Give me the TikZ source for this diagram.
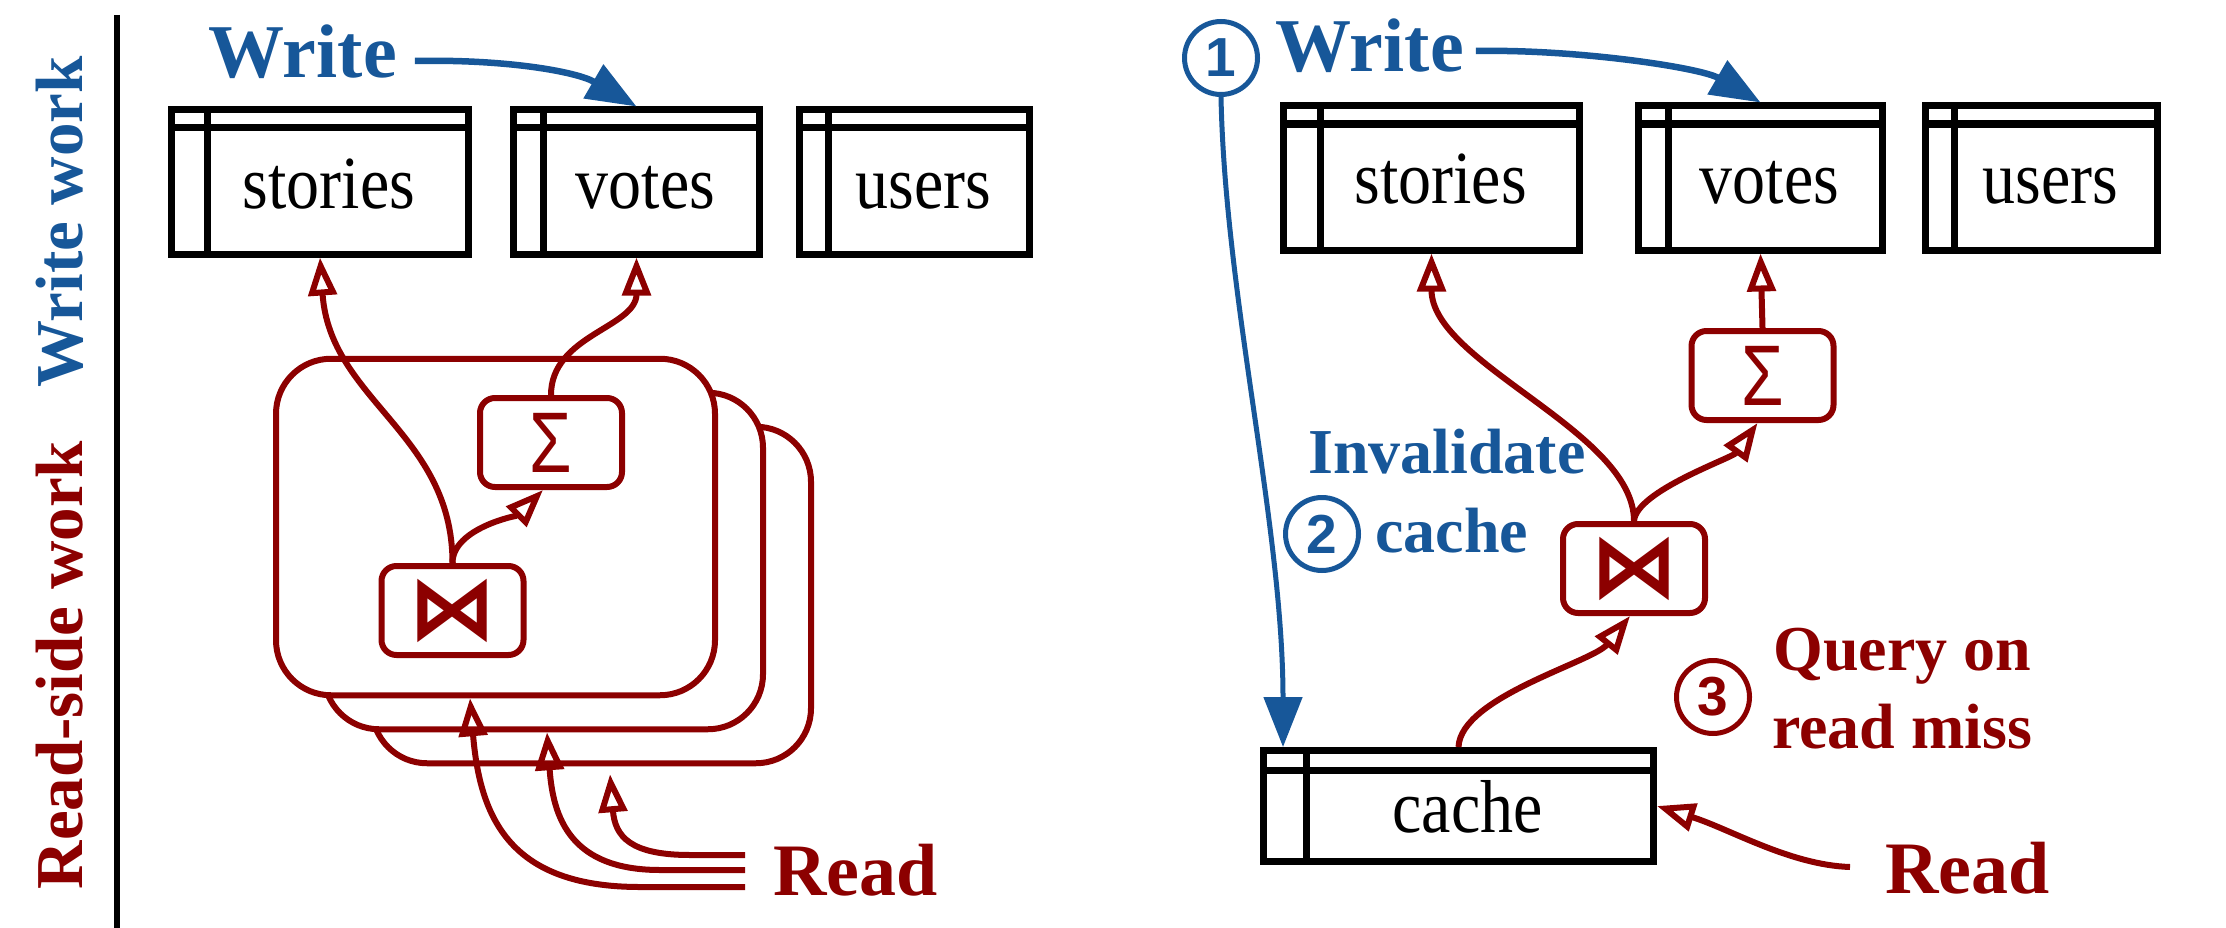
\documentclass[tikz,border=0pt]{standalone}
\usepackage{fontspec}
\setmainfont{Liberation Serif}
\newfontfamily\tblfont[FakeStretch=0.88]{Liberation Serif}
\newfontfamily\numfont{Liberation Sans}
\newfontfamily\sigfont[FakeStretch=0.8]{Liberation Sans}
\newfontfamily\opfont{DejaVu Sans}
\usetikzlibrary{arrows.meta,calc}
\definecolor{wblue}{RGB}{23,87,153}
\definecolor{rred}{RGB}{140,0,0}

\begin{document}
\begin{tikzpicture}[x=1pt,y=-1pt,
  % table: frame, header rule and key column
  tbl/.style 2 args={draw=black, line width=7pt, rectangle, inner sep=0pt,
    minimum height=144pt, text height=52pt, text depth=0pt,
    font=\tblfont\fontsize{75}{80}\selectfont,
    execute at begin node={\hspace*{18pt}},
    path picture={
      \draw[line width=7.5pt] ([yshift=-#2]path picture bounding box.north west) -- ([yshift=-#2]path picture bounding box.north east);
      \draw[line width=7pt] ([xshift=#1]path picture bounding box.north west) -- ([xshift=#1]path picture bounding box.south west);}},
  stk/.style={draw=rred, fill=white, line width=6pt, rounded corners=55pt,
    minimum width=439pt, minimum height=336.5pt, inner sep=0pt},
  opbox/.style={draw=rred, fill=white, line width=6pt, rounded corners=15pt,
    minimum width=142pt, minimum height=89pt, inner sep=0pt, text=rred},
  sigop/.style={opbox, font=\sigfont\fontsize{86}{90}\selectfont},
  joinop/.style={opbox, font=\opfont\bfseries\fontsize{88}{90}\selectfont},
  numcirc/.style={circle, draw, line width=5pt, minimum size=73pt, inner sep=0pt,
    font=\numfont\bfseries\fontsize{55}{60}\selectfont},
  lbl/.style={inner sep=0pt, anchor=base west, font=\bfseries\fontsize{64}{70}\selectfont},
  side/.style={inner sep=0pt, rotate=90, anchor=base, font=\bfseries\fontsize{67}{70}\selectfont},
  warr/.style={draw=wblue, line width=6.5pt, -{Triangle[length=50pt,width=38pt]}},
  rarr/.style={draw=rred, line width=6pt, -{Triangle[open,length=38pt,width=28pt]}}
]
\useasboundingbox (0,0) rectangle (2226,928);

% separator and side captions
\coordinate (sepTop) at (117,15);
\coordinate (sepBot) at (117,928);
\draw[line width=6pt] (sepTop) -- (sepBot);
\node[side, text=wblue] (wwork) at (82,222) {Write work};
\node[side, text=rred] (rwork) at (82,665) {Read-side work};

% ---------- left: dataflow ----------
\node[tbl={36pt}{17.5pt}, minimum width=297pt] (storiesL) at (320,182) {stories};
\node[tbl={30pt}{17.5pt}, minimum width=246pt] (votesL) at (636.5,182) {votes};
\node[tbl={29pt}{17.5pt}, minimum width=230pt] (usersL) at (914.5,182) {users};

\node[lbl, text=wblue, font=\bfseries\fontsize{76}{80}\selectfont] (writeL) at (208,78) {Write};

\node[stk] (box3) at (591.5,595) {};
\node[stk] (box2) at (543.5,561) {};
\node[stk] (box1) at (495.5,527) {};

\node[sigop] (sigmaL) at (551,442.5) {Σ};
\node[joinop] (joinL) at (452.5,610.5) {⋈};

\draw[warr] ([xshift=18pt,yshift=17pt]writeL.base east) .. controls +(90,-2) and +(-60,-35) .. (votesL.north);

\draw[rarr] (joinL.north) .. controls +(0,-130) and +(10,143) .. (storiesL.south);
\draw[rarr] (joinL.north) .. controls +(0,-35) and +(-25,25) .. ([xshift=-8pt]sigmaL.south);
\draw[rarr] (sigmaL.north) .. controls +(0,-60) and +(0,70) .. (votesL.south);

\coordinate (r1) at (745,887);
\coordinate (r2) at (745,870);
\coordinate (r3) at (745,855);
\draw[rarr] (r1) -- ++(-105,0) .. controls +(-130,0) and +(10,120) .. ([xshift=-25.5pt]box1.south);
\draw[rarr] (r2) -- ++(-85,0) .. controls +(-90,0) and +(6,85) .. ([xshift=3.5pt]box2.south);
\draw[rarr] (r3) -- ++(-55,0) .. controls +(-60,0) and +(5,62) .. ([xshift=18.5pt,yshift=-8pt]box3.south);
\node[lbl, text=rred, font=\bfseries\fontsize{74}{80}\selectfont] (readL) at (773,895) {Read};

% ---------- right: cache ----------
\node[tbl={37pt}{18pt}, minimum width=296pt] (storiesR) at (1431.5,178) {stories};
\node[tbl={30pt}{18pt}, minimum width=244pt] (votesR) at (1760.5,178) {votes};
\node[tbl={29pt}{18pt}, minimum width=232pt] (usersR) at (2041.5,178) {users};
\node[tbl={43pt}{20pt}, minimum width=390pt, minimum height=111pt] (cache) at (1458.5,806) {cache};

\node[numcirc, draw=wblue, text=wblue] (c1) at (1221,58) {1};
\node[lbl, text=wblue, font=\bfseries\fontsize{76}{80}\selectfont] (writeR) at (1275,72) {Write};
\node[numcirc, draw=wblue, text=wblue] (c2) at (1322,534) {2};
\node[lbl, text=wblue] (inval) at (1308,473) {Invalidate};
\node[lbl, text=wblue] (invcache) at (1375,552) {cache};
\node[numcirc, draw=rred, text=rred] (c3) at (1713,697) {3};
\node[lbl, text=rred] (query) at (1773,670) {Query on};
\node[lbl, text=rred] (miss) at (1772,748) {read miss};

\node[sigop] (sigmaR) at (1762.5,375.5) {Σ};
\node[joinop] (joinR) at (1634,568.5) {⋈};

\draw[warr] ([xshift=12pt,yshift=21pt]writeR.base east) .. controls +(100,-2) and +(-60,-35) .. (votesR.north);
\draw[warr, line width=5pt] (c1.south) .. controls +(4,200) and +(0,-220) .. ([xshift=23pt]cache.north west);

\draw[rarr] (cache.north) .. controls +(2,-50) and +(-37,46) .. ([xshift=-4pt]joinR.south);
\draw[rarr] (joinR.north) .. controls +(0,-90) and +(0,110) .. (storiesR.south);
\draw[rarr] (joinR.north) .. controls +(2,-30) and +(-25,35) .. ([xshift=-5pt]sigmaR.south);
\draw[rarr] (sigmaR.north) -- (votesR.south);

\coordinate (r4) at (1850,867);
\draw[rarr] (r4) .. controls +(-60,-2) and +(73,23) .. (cache.east);
\node[lbl, text=rred, font=\bfseries\fontsize{74}{80}\selectfont] (readR) at (1885,893) {Read};
\end{tikzpicture}
\end{document}
